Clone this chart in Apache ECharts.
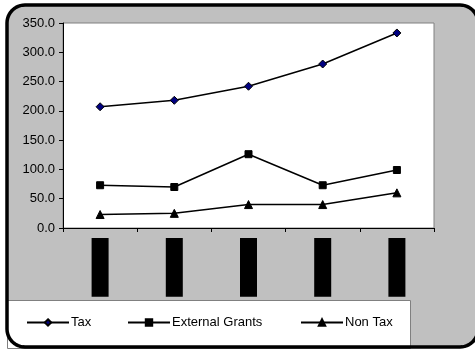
<!DOCTYPE html>
<html>
<head>
<meta charset="utf-8">
<script src="https://cdn.jsdelivr.net/npm/echarts@6/dist/echarts.min.js"></script>
<style>
  html, body { margin: 0; padding: 0; background: #fff; overflow: hidden; }
  #chart { width: 475px; height: 349px; }
</style>
</head>
<body>
<div id="chart"></div>
<script>
// Revenue by source, five fiscal years
const categories = ['2004/05', '2005/06', '2006/07', '2007/08', '2008/09'];
const taxValues = [207, 218, 242, 280, 333];
const externalGrantValues = [73, 70, 126, 73, 99];
const nonTaxValues = [23, 25, 40, 40, 60];
const yTicks = { min: 0, max: 350, interval: 50 };

const chart = echarts.init(document.getElementById('chart'));
const font = 'Liberation Sans, Arial, sans-serif';

function lineSeries(name, data, symbol, size, fill) {
  return {
    name: name,
    type: 'line',
    data: data,
    symbol: symbol,
    symbolSize: size,
    showAllSymbol: true,
    lineStyle: { color: '#000', width: 1.5 },
    itemStyle: { color: fill, borderColor: '#000', borderWidth: 1 },
    emphasis: { disabled: true },
    animation: false
  };
}

function legendAt(name, left) {
  return {
    data: [name],
    left: left,
    top: 316,
    padding: 0,
    itemWidth: 42,
    itemHeight: 8,
    itemGap: 0,
    textStyle: { fontFamily: font, fontSize: 13, color: '#000', padding: [0, 0, 0, -3] },
    selectedMode: false
  };
}

// Frame outline as an open polyline: top, left and bottom edges with rounded corners,
// the right edge runs off the canvas so only its corner arcs are drawn.
function framePoints() {
  const x0 = 7, y0 = 5, x1 = 478, y1 = 347, r = 18, steps = 12;
  const pts = [];
  function arc(cx, cy, a0, a1) {
    for (let i = 0; i <= steps; i++) {
      const a = a0 + (a1 - a0) * i / steps;
      pts.push([cx + r * Math.cos(a), cy + r * Math.sin(a)]);
    }
  }
  arc(x1 - r, y0 + r, 0, -Math.PI / 2);
  arc(x0 + r, y0 + r, -Math.PI / 2, -Math.PI);
  arc(x0 + r, y1 - r, Math.PI, Math.PI / 2);
  arc(x1 - r, y1 - r, Math.PI / 2, 0);
  return pts;
}

chart.setOption({
  animation: false,
  textStyle: { fontFamily: font },
  graphic: [
    {
      type: 'rect', z: -10,
      shape: { x: 7, y: 5, width: 474, height: 342, r: 18 },
      style: { fill: '#C0C0C0' }
    },
    {
      type: 'rect', z: 1,
      shape: { x: 7.5, y: 300.5, width: 403, height: 48 },
      style: { fill: '#fff', stroke: '#808080', lineWidth: 1 }
    },
    {
      type: 'polyline', z: 20,
      shape: { points: framePoints() },
      style: { fill: null, stroke: '#000', lineWidth: 3.5, lineJoin: 'round' }
    },
    {
      // plain gray strip along the right edge of the frame
      type: 'rect', z: 21,
      shape: { x: 468, y: 26, width: 8, height: 300 },
      style: { fill: '#C0C0C0' }
    }
  ],
  legend: [
    legendAt('Tax', 26),
    legendAt('External Grants', 127),
    legendAt('Non Tax', 300)
  ],
  grid: {
    left: 63, top: 23, width: 371, height: 205,
    show: true, backgroundColor: '#fff', borderColor: '#808080', borderWidth: 1
  },
  xAxis: {
    type: 'category',
    data: categories,
    boundaryGap: true,
    axisLine: { lineStyle: { color: '#000', width: 1 } },
    axisTick: { show: true, length: 4, lineStyle: { color: '#000' } },
    axisLabel: {
      rotate: 90,
      margin: 10,
      fontSize: 11,
      color: '#000',
      backgroundColor: '#000',
      padding: [3, 10, 3, 9],
      fontFamily: font
    },
    splitLine: { show: false }
  },
  yAxis: {
    type: 'value',
    min: yTicks.min,
    max: yTicks.max,
    interval: yTicks.interval,
    axisLine: { show: true, lineStyle: { color: '#000', width: 1 } },
    axisTick: { show: true, length: 4, lineStyle: { color: '#000' } },
    axisLabel: {
      margin: 8,
      fontSize: 13,
      color: '#000',
      fontFamily: font,
      formatter: v => v.toFixed(1)
    },
    splitLine: { show: false }
  },
  series: [
    lineSeries('Tax', taxValues, 'diamond', 8, '#000080'),
    lineSeries('External Grants', externalGrantValues, 'rect', 7, '#000'),
    lineSeries('Non Tax', nonTaxValues, 'triangle', 8, '#000')
  ]
});
</script>
</body>
</html>
